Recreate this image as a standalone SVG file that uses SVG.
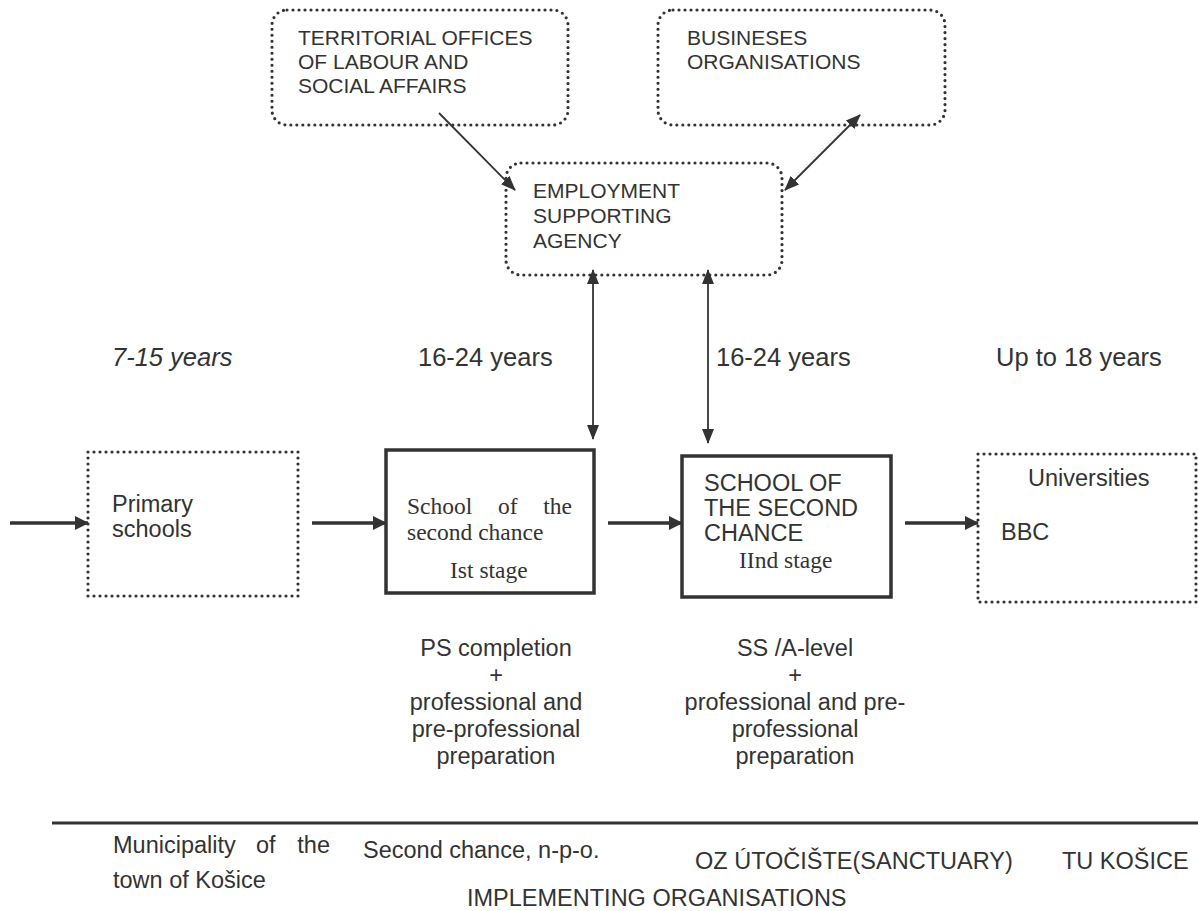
<svg xmlns="http://www.w3.org/2000/svg" width="1198" height="911" viewBox="0 0 1198 911">
<style>
.t{font-family:"Liberation Sans",Arial,sans-serif;fill:#333}
.s{font-family:"Liberation Serif","Times New Roman",serif;fill:#333}
.dot{fill:none;stroke:#333;stroke-width:3.2;stroke-dasharray:0 6;stroke-linecap:round}
.solid{fill:none;stroke:#333;stroke-width:3.5}
.thin{fill:none;stroke:#333;stroke-width:1.8}
.thick{fill:none;stroke:#333;stroke-width:3.5}
</style>
<defs>
<marker id="ah" markerUnits="userSpaceOnUse" markerWidth="15" markerHeight="12" refX="14" refY="6" orient="auto-start-reverse"><path d="M0,0 L15,6 L0,12 z" fill="#333"/></marker>
<marker id="ahb" markerUnits="userSpaceOnUse" markerWidth="14" markerHeight="14" refX="13" refY="7" orient="auto"><path d="M0,0 L14,7 L0,14 z" fill="#333"/></marker>
</defs>
<rect width="1198" height="911" fill="#fff"/>

<g id="territorial">
<rect class="dot" x="272" y="10" width="296" height="115" rx="15"/>
<text class="t" font-size="21"><tspan x="298" y="45">TERRITORIAL OFFICES</tspan><tspan x="298" y="69">OF LABOUR AND</tspan><tspan x="298" y="93">SOCIAL AFFAIRS</tspan></text>
</g>
<g id="businesses">
<rect class="dot" x="658" y="10" width="287" height="115" rx="15"/>
<text class="t" font-size="21"><tspan x="687" y="45">BUSINESES</tspan><tspan x="687" y="69">ORGANISATIONS</tspan></text>
</g>
<g id="employment">
<rect class="dot" x="506" y="163" width="276" height="112" rx="15"/>
<text class="t" font-size="21"><tspan x="533" y="198">EMPLOYMENT</tspan><tspan x="533" y="223">SUPPORTING</tspan><tspan x="533" y="248">AGENCY</tspan></text>
</g>

<g id="ages" class="t" font-size="25.5">
<text x="112" y="366" font-style="italic">7-15 years</text>
<text x="418" y="366">16-24 years</text>
<text x="716" y="366">16-24 years</text>
<text x="996" y="366">Up to 18 years</text>
</g>

<g id="primary">
<rect class="dot" x="88" y="452" width="210" height="144"/>
<text class="t" font-size="23.5"><tspan x="112" y="512">Primary</tspan><tspan x="112" y="537">schools</tspan></text>
</g>
<g id="school1">
<rect class="solid" x="386" y="450" width="208" height="143"/>
<text class="s" font-size="23.5" x="407" y="514">School</text>
<text class="s" font-size="23.5" x="498" y="514">of</text>
<text class="s" font-size="23.5" x="572" y="514" text-anchor="end">the</text>
<text class="s" font-size="23.5" x="407" y="540">second chance</text>
<text class="s" font-size="23.5" x="450" y="578">Ist stage</text>
</g>
<g id="school2">
<rect class="solid" x="682" y="456" width="209" height="141"/>
<text class="t" font-size="23.5"><tspan x="704" y="491">SCHOOL OF</tspan><tspan x="704" y="516">THE SECOND</tspan><tspan x="704" y="541">CHANCE</tspan></text>
<text class="s" font-size="23.5" x="739" y="568">IInd stage</text>
</g>
<g id="universities">
<rect class="dot" x="978" y="454" width="218" height="148"/>
<text class="t" font-size="23.5"><tspan x="1028" y="486">Universities</tspan><tspan x="1001" y="540">BBC</tspan></text>
</g>

<g id="outcome1" class="t" font-size="23.5" text-anchor="middle">
<text x="496" y="656">PS completion</text>
<text x="496" y="683">+</text>
<text x="496" y="710">professional and</text>
<text x="496" y="737">pre-professional</text>
<text x="496" y="764">preparation</text>
</g>
<g id="outcome2" class="t" font-size="23.5" text-anchor="middle">
<text x="795" y="656">SS /A-level</text>
<text x="795" y="683">+</text>
<text x="795" y="710">professional and pre-</text>
<text x="795" y="737">professional</text>
<text x="795" y="764">preparation</text>
</g>

<g id="connectors">
<line class="thin" x1="439" y1="113" x2="515" y2="190" marker-end="url(#ah)"/>
<line class="thin" x1="860" y1="115" x2="785" y2="190" marker-start="url(#ah)" marker-end="url(#ah)"/>
<line class="thin" x1="593" y1="270" x2="593" y2="439" marker-start="url(#ah)" marker-end="url(#ah)"/>
<line class="thin" x1="708" y1="270" x2="708" y2="443" marker-start="url(#ah)" marker-end="url(#ah)"/>
<line class="thick" x1="10" y1="523" x2="88" y2="523" marker-end="url(#ahb)"/>
<line class="thick" x1="312" y1="523" x2="386" y2="523" marker-end="url(#ahb)"/>
<line class="thick" x1="608" y1="523" x2="682" y2="523" marker-end="url(#ahb)"/>
<line class="thick" x1="905" y1="523" x2="978" y2="523" marker-end="url(#ahb)"/>
</g>

<g id="implementing">
<line x1="52" y1="823" x2="1198" y2="823" stroke="#333" stroke-width="3"/>
<text class="t" font-size="23.5" x="113" y="853">Municipality</text>
<text class="t" font-size="23.5" x="256" y="853">of</text>
<text class="t" font-size="23.5" x="330" y="853" text-anchor="end">the</text>
<text class="t" font-size="23.5" x="113" y="888">town of Košice</text>
<text class="t" font-size="23.5" x="363" y="858">Second chance, n-p-o.</text>
<text class="t" font-size="23.5" x="695" y="869">OZ ÚTOČIŠTE(SANCTUARY)</text>
<text class="t" font-size="23.5" x="1062" y="869">TU KOŠICE</text>
<text class="t" font-size="23.5" x="467" y="906">IMPLEMENTING ORGANISATIONS</text>
</g>
</svg>
